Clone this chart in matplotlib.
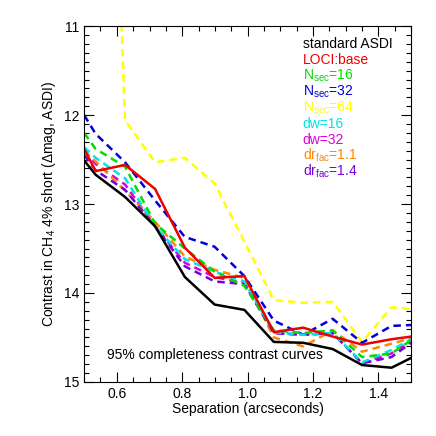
import numpy as np
import matplotlib
matplotlib.use('Agg')
from matplotlib import pyplot as plt
from matplotlib.ticker import MultipleLocator

plt.rcParams['font.family'] = ['Liberation Sans', 'DejaVu Sans']
plt.rcParams['mathtext.fontset'] = 'custom'
plt.rcParams['mathtext.rm'] = 'Liberation Sans'
plt.rcParams['mathtext.it'] = 'Liberation Sans:italic'

# separation (arcsec) of each sample
sep = [0.5, 0.535, 0.625, 0.717, 0.808, 0.899, 0.99, 1.08, 1.17, 1.26, 1.35, 1.44, 1.5]

std_asdi = [12.51, 12.67, 12.92, 13.25, 13.82, 14.13, 14.19, 14.55, 14.56, 14.63, 14.81, 14.84, 14.73]
loci_base = [12.38, 12.63, 12.56, 12.83, 13.49, 13.83, 13.81, 14.44, 14.39, 14.49, 14.58, 14.52, 14.49]
nsec16 = [12.20, 12.38, 12.58, 13.22, 13.50, 13.76, 13.92, 14.42, 14.45, 14.42, 14.72, 14.68, 14.53]
nsec32 = [12.00, 12.21, 12.53, 12.96, 13.37, 13.48, 13.81, 14.31, 14.47, 14.29, 14.56, 14.37, 14.36]
nsec64 = [np.nan, 3.0, 12.06, 12.53, 12.48, 12.77, 13.42, 14.08, 14.11, 14.10, 14.55, 14.16, 14.18]
dw16 = [12.36, 12.48, 12.71, 13.25, 13.62, 13.76, 13.87, 14.44, 14.47, 14.45, 14.78, 14.64, 14.52]
dw32 = [12.40, 12.55, 12.78, 13.25, 13.66, 13.82, 13.89, 14.45, 14.47, 14.45, 14.79, 14.68, 14.54]
drfac11 = [12.40, 12.52, 12.85, 13.20, 13.59, 13.74, 13.83, 14.50, 14.60, 14.42, 14.66, 14.57, 14.51]
drfac14 = [12.45, 12.62, 12.84, 13.25, 13.70, 13.87, 13.90, 14.45, 14.47, 14.45, 14.79, 14.72, 14.56]

labels = ['standard ASDI', 'LOCI:base', r'N$_{\rm sec}$=16', r'N$_{\rm sec}$=32',
          r'N$_{\rm sec}$=64', 'dw=16', 'dw=32', r'dr$_{\rm fac}$=1.1', r'dr$_{\rm fac}$=1.4']
colors = ['black', '#ee0000', '#00dd00', '#0000dd', '#ffff00', '#00e5e5',
          '#dd00dd', '#ff8800', '#7700dd']

fig = plt.figure(figsize=(4.36, 4.36), dpi=100)
ax = fig.add_axes([0.193, 0.124, 0.75, 0.816])

dash = (0, (3, 2))
lw = 1.8
ax.plot(sep, dw32, color=colors[6], lw=lw, ls=dash)
ax.plot(sep, nsec64, color=colors[4], lw=lw, ls=dash)
ax.plot(sep, nsec32, color=colors[3], lw=lw, ls=dash)
ax.plot(sep, drfac11, color=colors[7], lw=lw, ls=dash)
ax.plot(sep, drfac14, color=colors[8], lw=lw, ls=dash)
ax.plot(sep, dw16, color=colors[5], lw=lw, ls=dash)
ax.plot(sep, nsec16, color=colors[2], lw=lw, ls=dash)
ax.plot(sep, std_asdi, color=colors[0], lw=lw)
ax.plot(sep, loci_base, color=colors[1], lw=lw)

ax.set_xlim(0.5, 1.5)
ax.set_ylim(15, 11)
ax.xaxis.set_minor_locator(MultipleLocator(0.05))
ax.yaxis.set_major_locator(MultipleLocator(1))
ax.yaxis.set_minor_locator(MultipleLocator(0.1))
ax.set_xticks([0.6, 0.8, 1.0, 1.2, 1.4])
ax.set_xticklabels(['0.6', '0.8', '1.0', '1.2', '1.4'])
ax.tick_params(which='both', direction='in', top=True, right=True, labelsize=10, width=0.8)
ax.tick_params(which='major', length=7)
ax.tick_params(which='minor', length=3.5)
for s in ax.spines.values():
    s.set_linewidth(0.8)

ax.set_xlabel('Separation (arcseconds)', fontsize=10, labelpad=1)
ax.set_ylabel(r'Contrast in CH$_4$ 4% short ($\Delta$mag, ASDI)', fontsize=10, labelpad=4)

ax.text(0.07, 0.077, '95% completeness contrast curves', transform=ax.transAxes,
        fontsize=10, va='center', ha='left')

for i, (lab, c) in enumerate(zip(labels, colors)):
    ax.text(0.668, 0.94 - i * 0.045, lab, color=c, transform=ax.transAxes,
            fontsize=10, va='baseline', ha='left')

fig.savefig('out.png', dpi=100)
